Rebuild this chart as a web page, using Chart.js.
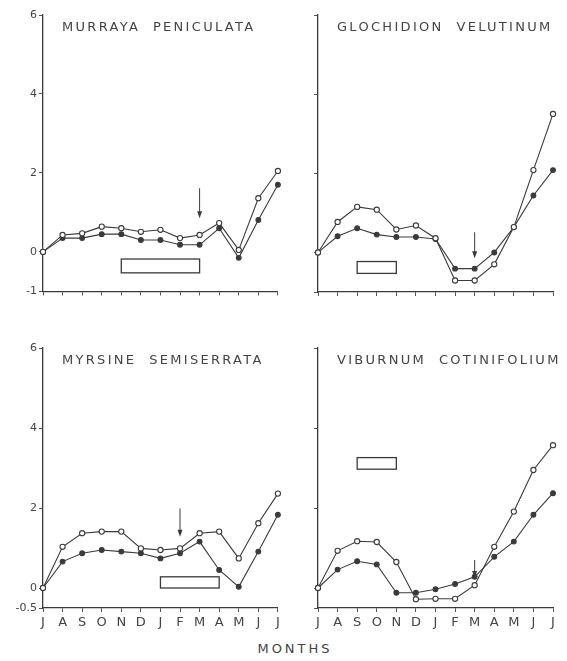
<!DOCTYPE html>
<html>
<head>
<meta charset="utf-8">
<script src="https://cdn.jsdelivr.net/npm/chart.js@4.4.1/dist/chart.umd.min.js"></script>
<style>
    body { margin: 0; background: #fff; }
    #wrap { position: relative; width: 567px; height: 661px; background: #fff; overflow: hidden; }
    .panel { position: absolute; }
    #months {
        position: absolute; left: 240px; top: 641px; width: 110px; text-align: center;
        font: 13px "DejaVu Sans", sans-serif; letter-spacing: 3px; color: #444;
    }
</style>
</head>
<body>
<div id="wrap">
    <div class="panel" style="left:0;top:0"><canvas id="murraya" width="283" height="300"></canvas></div>
    <div class="panel" style="left:283px;top:0"><canvas id="glochidion" width="284" height="300"></canvas></div>
    <div class="panel" style="left:0;top:330px"><canvas id="myrsine" width="283" height="302"></canvas></div>
    <div class="panel" style="left:283px;top:330px"><canvas id="viburnum" width="284" height="302"></canvas></div>
    <div id="months">MONTHS</div>
</div>
<script>
// months July -> July
const months = ['J', 'A', 'S', 'O', 'N', 'D', 'J', 'F', 'M', 'A', 'M', 'J', 'J'];

const topTicks = [-1, 0, 2, 4, 6];
const topTickLabels = ['-1', '0', '2', '4', '6'];
const bottomTicks = [-0.5, 0, 2, 4, 6];
const bottomTickLabels = ['-0.5', '0', '2', '4', '6'];

// Murraya peniculata
const murrayaOpen   = [0, 0.43, 0.47, 0.64, 0.60, 0.51, 0.56, 0.35, 0.43, 0.73, 0.05, 1.36, 2.05];
const murrayaFilled = [0, 0.35, 0.35, 0.45, 0.45, 0.30, 0.30, 0.18, 0.18, 0.60, -0.15, 0.81, 1.70];
const murrayaBox = [4, 8, -0.53, -0.18];   // from month, to month, low, high
const murrayaArrow = [8, 1.61, 0.85];      // month, from, to

// Glochidion velutinum
const glochidionOpen   = [0, 0.77, 1.15, 1.08, 0.58, 0.68, 0.36, -0.71, -0.71, -0.30, 0.64, 2.08, 3.50];
const glochidionFilled = [0, 0.41, 0.61, 0.45, 0.39, 0.39, 0.34, -0.41, -0.41, 0.00, 0.64, 1.44, 2.08];
const glochidionBox = [2, 4, -0.53, -0.23];
const glochidionArrow = [8, 0.51, -0.15];

// Myrsine semiserrata
const myrsineOpen   = [0, 1.03, 1.37, 1.41, 1.41, 0.99, 0.95, 0.99, 1.37, 1.41, 0.74, 1.62, 2.36];
const myrsineFilled = [0, 0.66, 0.87, 0.95, 0.91, 0.87, 0.74, 0.87, 1.16, 0.45, 0.03, 0.91, 1.83];
const myrsineBox = [6, 9, 0, 0.28];
const myrsineArrow = [7, 1.99, 1.28];

// Viburnum cotinifolium
const viburnumOpen   = [0, 0.93, 1.17, 1.15, 0.65, -0.28, -0.27, -0.27, 0.07, 1.03, 1.91, 2.95, 3.57];
const viburnumFilled = [0, 0.46, 0.67, 0.59, -0.12, -0.12, -0.03, 0.10, 0.28, 0.78, 1.16, 1.83, 2.37];
const viburnumBox = [2, 4, 2.97, 3.26];
const viburnumArrow = [8, 0.70, 0.25];

const ink = '#3a3a3a';

// box, arrow and the species name inside the plot
const decor = {
    id: 'decor',
    afterDatasetsDraw(chart, args, o) {
        const ctx = chart.ctx, x = chart.scales.x, y = chart.scales.y, area = chart.chartArea;
        ctx.save();
        // open rectangle
        const bx0 = x.getPixelForValue(o.box[0]), bx1 = x.getPixelForValue(o.box[1]);
        const by0 = y.getPixelForValue(o.box[3]), by1 = y.getPixelForValue(o.box[2]);
        ctx.strokeStyle = ink;
        ctx.lineWidth = 1.3;
        ctx.strokeRect(bx0, by0, bx1 - bx0, by1 - by0);
        // arrow
        const ax = x.getPixelForValue(o.arrow[0]);
        const ay0 = y.getPixelForValue(o.arrow[1]), ay1 = y.getPixelForValue(o.arrow[2]);
        ctx.lineWidth = 1;
        ctx.beginPath();
        ctx.moveTo(ax, ay0);
        ctx.lineTo(ax, ay1 - 5);
        ctx.stroke();
        ctx.fillStyle = ink;
        ctx.beginPath();
        ctx.moveTo(ax - 2.5, ay1 - 7);
        ctx.lineTo(ax + 2.5, ay1 - 7);
        ctx.lineTo(ax, ay1);
        ctx.closePath();
        ctx.fill();
        // title
        ctx.font = '13px "DejaVu Sans", sans-serif';
        ctx.letterSpacing = '2.3px';
        ctx.fillStyle = '#444';
        ctx.textBaseline = 'middle';
        ctx.textAlign = 'left';
        ctx.fillText(o.title, area.left + 19, area.top + 13);
        ctx.restore();
    }
};

function makePanel(id, title, open, filled, box, arrow, bottom, left) {
    new Chart(document.getElementById(id), {
        type: 'line',
        data: {
            labels: months,
            datasets: [{
                data: open,
                borderColor: ink,
                borderWidth: 1.1,
                pointRadius: 2.6,
                pointBackgroundColor: '#fff',
                pointBorderColor: ink,
                pointBorderWidth: 1.1,
                tension: 0
            }, {
                data: filled,
                borderColor: ink,
                borderWidth: 1.1,
                pointRadius: 2.4,
                pointBackgroundColor: ink,
                pointBorderColor: ink,
                tension: 0
            }]
        },
        options: {
            responsive: false,
            animation: false,
            layout: { padding: { top: bottom ? 18 : 15, right: left ? 5 : 14, left: 0, bottom: 0 } },
            plugins: {
                legend: { display: false },
                tooltip: { enabled: false },
                decor: { title: title, box: box, arrow: arrow }
            },
            scales: {
                x: {
                    type: 'category',
                    offset: false,
                    grid: { drawOnChartArea: false, drawTicks: true, tickLength: 4, color: '#555' },
                    border: { color: ink, width: 1.3 },
                    ticks: {
                        display: bottom,
                        autoSkip: false,
                        maxRotation: 0,
                        padding: 3,
                        color: '#444',
                        font: { family: 'DejaVu Sans', size: 13 }
                    },
                    afterFit: (s) => { s.height = bottom ? 24 : 8; }
                },
                y: {
                    type: 'linear',
                    min: bottom ? -0.5 : -1,
                    max: 6,
                    afterBuildTicks: (s) => {
                        s.ticks = (bottom ? bottomTicks : topTicks).map(v => ({ value: v }));
                    },
                    grid: { drawOnChartArea: false, drawTicks: true, tickLength: 4, color: '#555' },
                    border: { color: ink, width: 1.3 },
                    ticks: {
                        display: left,
                        padding: 2,
                        color: '#444',
                        font: { family: 'DejaVu Sans', size: 11 },
                        callback: (v) => {
                            const t = bottom ? bottomTicks : topTicks;
                            const l = bottom ? bottomTickLabels : topTickLabels;
                            return l[t.indexOf(v)];
                        }
                    },
                    afterFit: (s) => { s.width = left ? 43 : 35; }
                }
            }
        },
        plugins: [decor]
    });
}

makePanel('murraya', 'MURRAYA  PENICULATA', murrayaOpen, murrayaFilled, murrayaBox, murrayaArrow, false, true);
makePanel('glochidion', 'GLOCHIDION  VELUTINUM', glochidionOpen, glochidionFilled, glochidionBox, glochidionArrow, false, false);
makePanel('myrsine', 'MYRSINE  SEMISERRATA', myrsineOpen, myrsineFilled, myrsineBox, myrsineArrow, true, true);
makePanel('viburnum', 'VIBURNUM  COTINIFOLIUM', viburnumOpen, viburnumFilled, viburnumBox, viburnumArrow, true, false);
</script>
</body>
</html>
